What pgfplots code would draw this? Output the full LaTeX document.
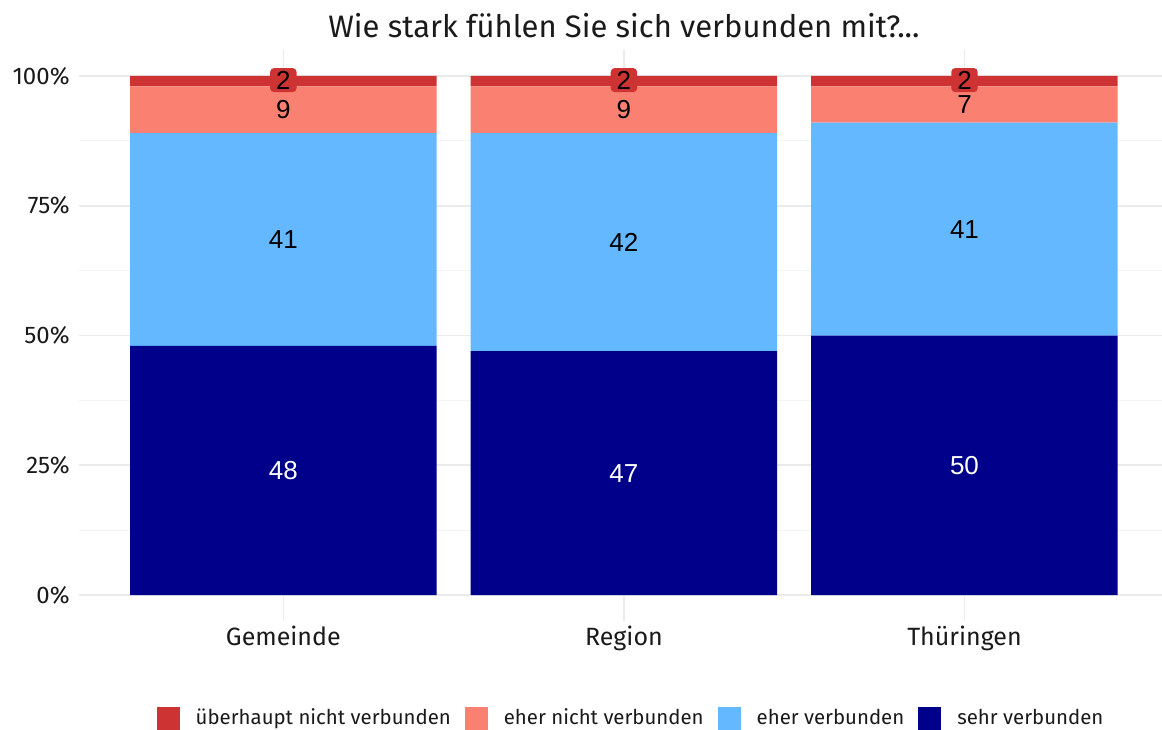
\documentclass[border=0pt]{standalone}
\usepackage{fontspec}
\setmainfont{Fira Sans}
\newfontfamily\lab{Liberation Sans}
\usepackage{pgfplots}
\pgfplotsset{compat=1.18}
\definecolor{cA}{HTML}{CD3333}
\definecolor{cB}{HTML}{FA8072}
\definecolor{cC}{HTML}{63B8FF}
\definecolor{cD}{HTML}{00008B}
\definecolor{gridc}{HTML}{EBEBEB}
\definecolor{gridm}{HTML}{F4F4F4}
\definecolor{txt}{HTML}{1A1A1A}
\begin{document}
\begin{tikzpicture}
\pgfplotsset{
  base/.style={scale only axis, width=541.5pt, height=285.5pt,
    xmin=0.4, xmax=3.58, ymin=-5, ymax=105},
  sq/.style={legend image code/.code={\fill[##1] (0pt,-5.75pt) rectangle (11.5pt,5.75pt);}},
  lbl/.style={draw=none, mark=none, nodes near coords, point meta=explicit symbolic,
    every node near coord/.append style={anchor=center, inner sep=0pt, font=\lab\fontsize{13}{15}\selectfont, text=#1}},
}
\begin{axis}[base, ybar stacked, bar width=0.9,
  axis line style={draw=none}, tick style={draw=none},
  xtick={1,2,3}, xticklabels={Gemeinde,Region,Thüringen},
  ytick={0,25,50,75,100}, yticklabels={0\%,25\%,50\%,75\%,100\%},
  minor ytick={12.5,37.5,62.5,87.5},
  xmajorgrids, ymajorgrids, yminorgrids,
  major grid style={draw=gridc, line width=0.8pt},
  minor grid style={draw=gridm, line width=0.5pt},
  xticklabel style={font=\fontsize{12.5}{15}\selectfont, anchor=base, inner sep=0pt, yshift=-12pt, text=txt},
  yticklabel style={font=\fontsize{12}{14}\selectfont, anchor=east, inner sep=0pt, xshift=-4.5pt, text=txt},
  title={Wie stark fühlen Sie sich verbunden mit?...},
  title style={at={(0.5032,1)}, anchor=base, yshift=0.5pt, inner sep=0pt, font=\fontsize{15.5}{18}\selectfont, text=txt},
  legend columns=4, reverse legend,
  legend style={at={(0.5088,-0.1699)}, anchor=center, draw=none, fill=none,
    font=\fontsize{10.2}{12}\selectfont, text=txt,
    nodes={inner sep=0pt},
    /tikz/every odd column/.append style={column sep=8pt},
    /tikz/every even column/.append style={column sep=7pt}},
]
\coordinate (O) at (rel axis cs:0,0);
\addplot[sq, fill=cD, draw=none] coordinates {(1,48) (2,47) (3,50)};
\addplot[sq, fill=cC, draw=none] coordinates {(1,41) (2,42) (3,41)};
\addplot[sq, fill=cB, draw=none] coordinates {(1,9) (2,9) (3,7)};
\addplot[sq, fill=cA, draw=none] coordinates {(1,2) (2,2) (3,2)};
\legend{sehr verbunden, eher verbunden, eher nicht verbunden, überhaupt nicht verbunden}
\end{axis}
\begin{axis}[base, hide axis]
\addplot[lbl=white] coordinates {(1,24) [48] (2,23.5) [47] (3,25) [50]};
\addplot[lbl=black] coordinates {(1,68.5) [41] (2,68) [42] (3,70.5) [41]};
\addplot[lbl=black] coordinates {(1,93.5) [9] (2,93.5) [9] (3,94.5) [7]};
\addplot[draw=none, mark=none, nodes near coords, point meta=explicit symbolic,
  every node near coord/.append style={anchor=center, fill=cA, rounded corners=2pt,
    inner xsep=3pt, inner ysep=1.5pt, font=\lab\fontsize{13}{15}\selectfont, text=black}]
  coordinates {(1,99.2) [2] (2,99.2) [2] (3,99.2) [2]};
\end{axis}
\pgfresetboundingbox
\path (O) ++(-39.5pt,-54pt) coordinate (BL);
\path (BL) rectangle ++(581pt,364.5pt);
\end{tikzpicture}
\end{document}
